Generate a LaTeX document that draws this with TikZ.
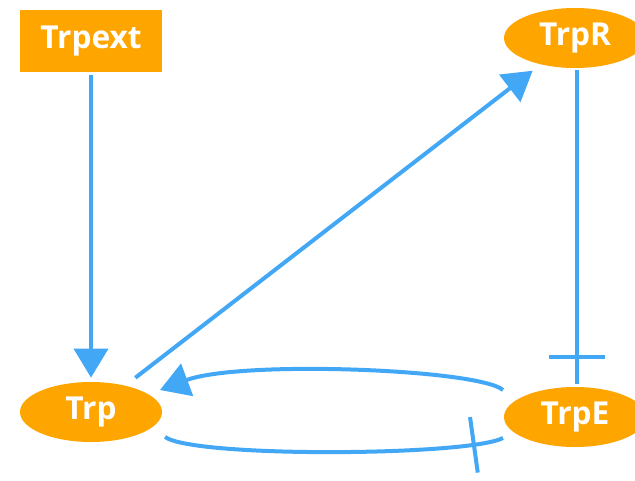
\documentclass[tikz,border=0pt]{standalone}
\usepackage{fontspec}
\setmainfont{Open Sans}
\usetikzlibrary{arrows.meta,positioning,shapes.geometric,decorations.markings}
\definecolor{trpblue}{HTML}{42A8F6}
\definecolor{trporange}{HTML}{FFA500}
\tikzset{
  species/.style={ellipse,fill=trporange,text=white,font=\bfseries\fontsize{18}{20}\selectfont,
    minimum width=2.84cm,minimum height=1.2cm,inner sep=0pt},
  source/.style={rectangle,fill=trporange,text=white,font=\bfseries\fontsize{18}{20}\selectfont,
    minimum width=2.84cm,minimum height=1.24cm,inner sep=0pt},
  act/.style={-{Triangle[width=0.68cm,length=0.58cm]},color=trpblue,line width=0.08cm},
  inhibit/.style={color=trpblue,line width=0.08cm,postaction={decorate},
    decoration={markings,mark=at position #1 with {\draw[trpblue,line width=0.08cm] (0,-0.56) -- (0,0.56);}}},
}
\begin{document}
\begin{tikzpicture}
\useasboundingbox (0,0) rectangle (12.7,9.6);
% \draw[help lines] (0,0) grid (12,9);
\node (trpext) [source] at (1.82,8.78) {Trpext};
\node (trpr) [species] at (11.5,8.84) {TrpR};
\node (trp) [species] at (1.82,1.36) {Trp};
\node (trpe) [species] at (11.5,1.26) {TrpE};
%
\path[act,shorten <=0.06cm,shorten >=0.08cm] (trpext) edge (trp);
\path[act,shorten <=0.25cm,shorten >=0.2cm] (trp) edge (trpr);
\draw[inhibit=-0.54cm] ([xshift=0.04cm,yshift=-0.04cm]trpr.south) -- ([xshift=0.04cm,yshift=0.06cm]trpe.north);
%
\draw[act] ([xshift=-1.44cm,yshift=0.54cm]trpe.center) .. controls +(-0.5,0.42) and +(1.6,0.6) .. ([xshift=1.38cm,yshift=0.44cm]trp.center);
\draw[inhibit=-0.6cm] ([xshift=1.48cm,yshift=-0.5cm]trp.center) .. controls +(0.6,-0.42) and +(-0.7,-0.36) .. ([xshift=-1.44cm,yshift=-0.42cm]trpe.center);
\end{tikzpicture}
\end{document}
